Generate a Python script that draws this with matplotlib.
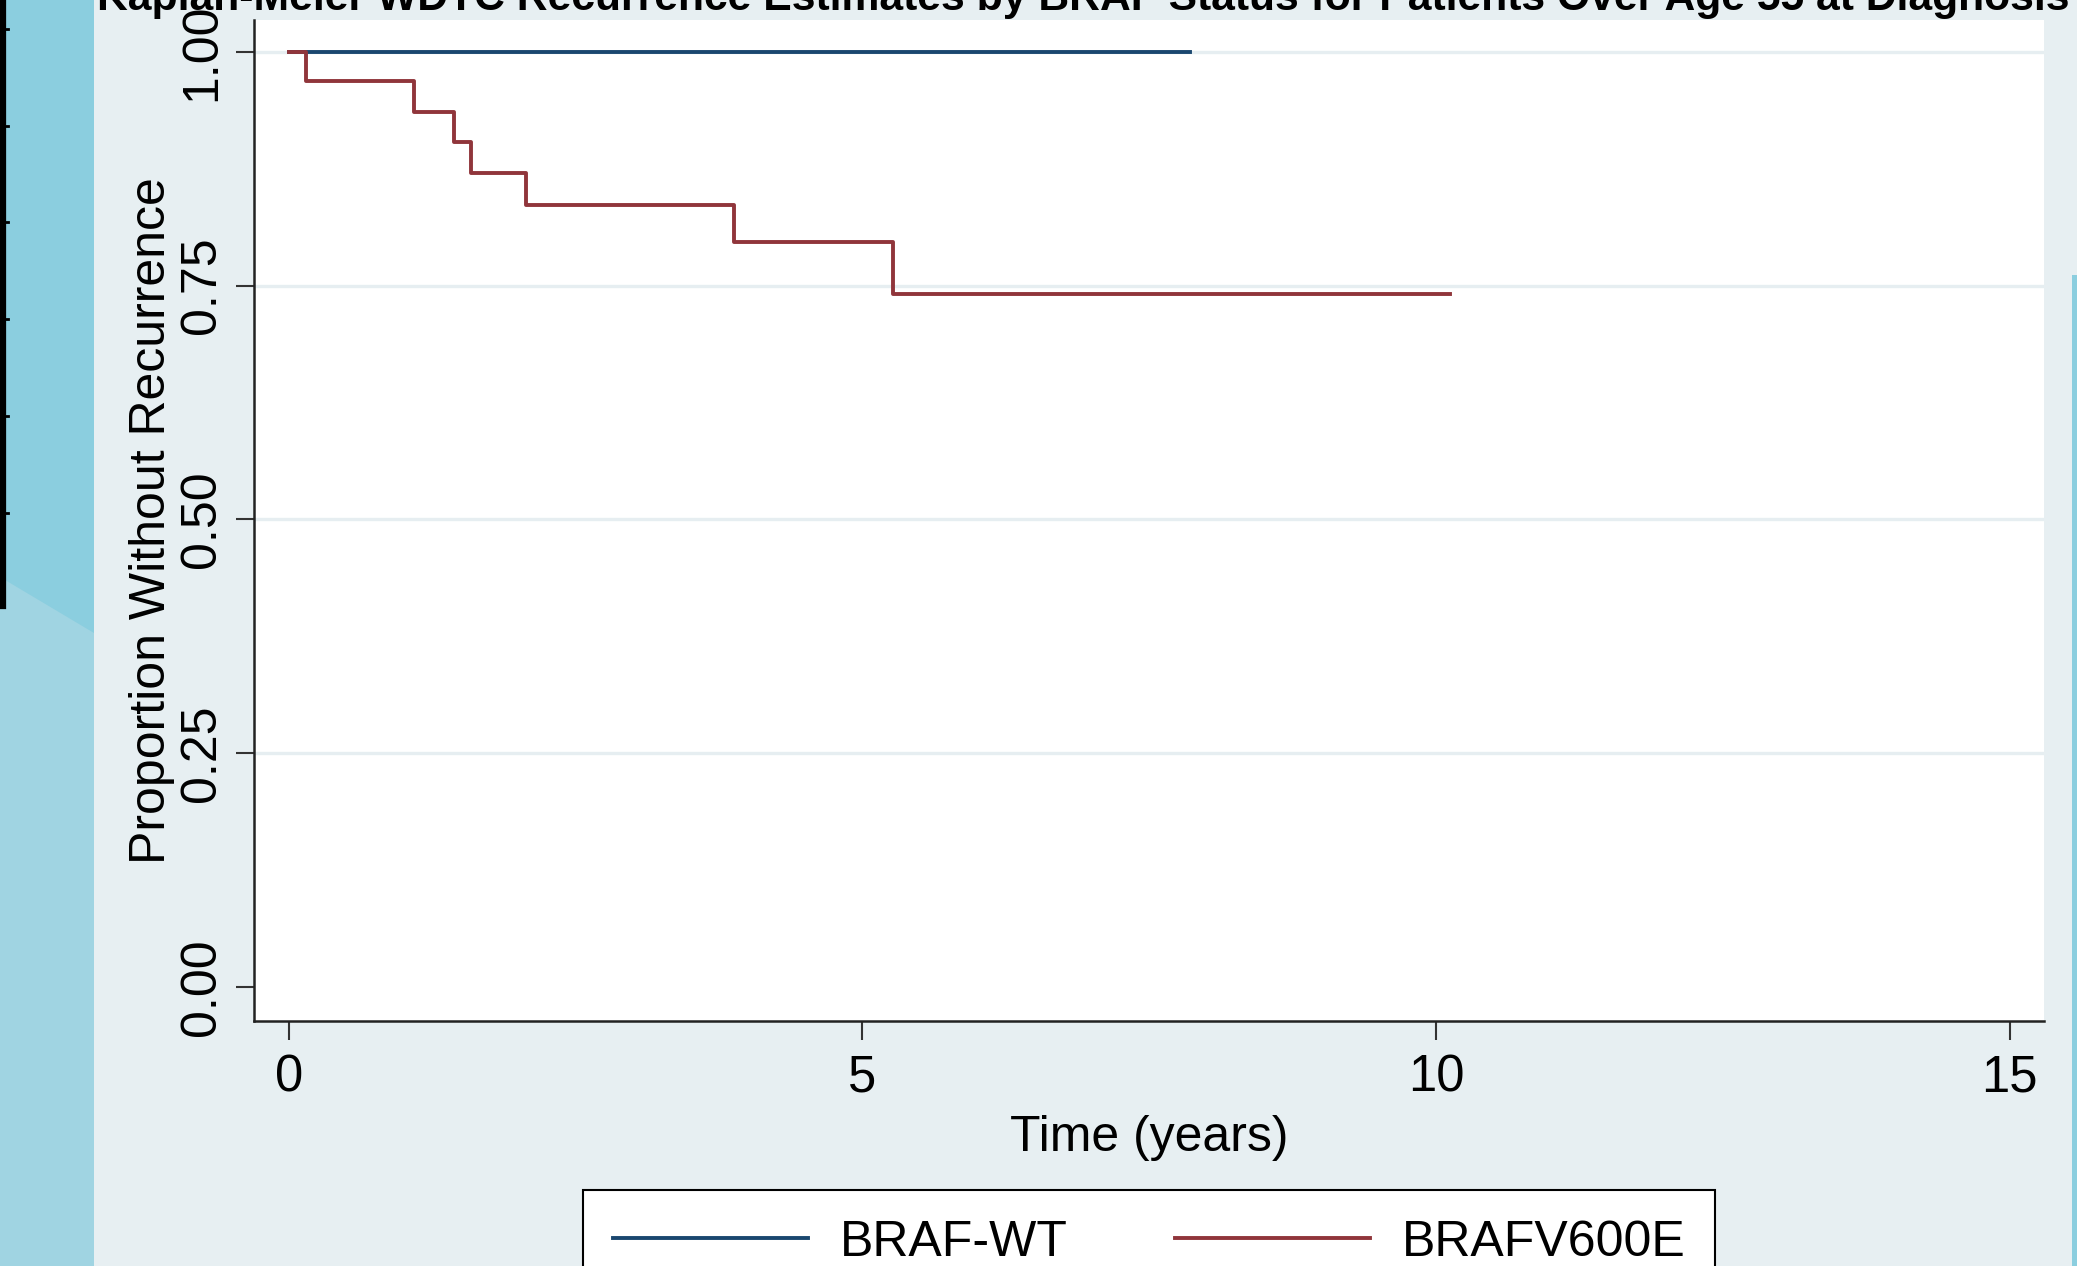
import matplotlib
matplotlib.use("Agg")
import matplotlib.pyplot as plt
from matplotlib.patches import Rectangle, Polygon
from matplotlib.lines import Line2D

plt.rcParams["font.family"] = ["Liberation Sans", "DejaVu Sans"]

W, H = 2077, 1266

# Kaplan-Meier estimates
wt_time = [0.0, 7.86]
wt_surv = [1.0, 1.0]
v600e_time = [0.0, 0.15, 1.09, 1.44, 1.59, 2.07, 3.88, 5.27, 10.12]
v600e_surv = [1.0, 0.969, 0.936, 0.903, 0.870, 0.836, 0.797, 0.741, 0.741]

x_ticks = [0, 5, 10, 15]
y_ticks = [0.0, 0.25, 0.5, 0.75, 1.0]
y_ticklabels = ["0.00", "0.25", "0.50", "0.75", "1.00"]
series_labels = ["BRAF-WT", "BRAFV600E"]
title = ("Kaplan-Meier WDTC Recurrence Estimates by BRAF Status "
         "for Patients Over Age 55 at Diagnosis")

blue = "#1a476f"
red = "#90353b"
bg = "#e7eff2"


def fx(px):
    return px / W


def fy(py):
    return 1 - py / H


fig = plt.figure(figsize=(W / 100, H / 100), dpi=100)
fig.patch.set_facecolor(bg)

# cyan strip on the left (slide behind the screenshot)
fig.add_artist(Rectangle((0, 0), fx(94), 1, transform=fig.transFigure,
                         facecolor="#8bcedf", edgecolor="none", zorder=0))
fig.add_artist(Polygon([(0, fy(577)), (fx(94), fy(633)), (fx(94), 0), (0, 0)],
                       closed=True, transform=fig.transFigure,
                       facecolor="#a0d4e2", edgecolor="none", zorder=0))
fig.add_artist(Line2D([fx(3), fx(3)], [1, fy(606)], transform=fig.transFigure,
                      color="black", linewidth=4.5, zorder=1))
for ty in [29, 126, 222, 319, 416, 513]:
    fig.add_artist(Line2D([0, fx(8)], [fy(ty), fy(ty)], transform=fig.transFigure,
                          color="black", linewidth=2, zorder=1))
fig.add_artist(Rectangle((fx(2072), 0), fx(5), fy(275), transform=fig.transFigure,
                         facecolor="#8bcedf", edgecolor="none", zorder=0))

ax = fig.add_axes([fx(254), fy(1021), fx(2044) - fx(254), fy(20) - fy(1021)])
ax.set_facecolor("white")

ax.step(wt_time, wt_surv, where="post", color=blue, linewidth=2.8, zorder=3,
        label=series_labels[0])
ax.step(v600e_time, v600e_surv, where="post", color=red, linewidth=2.8, zorder=4,
        label=series_labels[1])

ax.set_xlim(-0.303, 15.30)
ax.set_ylim(-0.0366, 1.034)

ax.set_xticks(x_ticks)
ax.set_yticks(y_ticks)
ax.set_yticklabels(y_ticklabels, rotation=90, va="center")

ax.yaxis.grid(True, color="#e6eef1", linewidth=2.4, zorder=1)
ax.get_ygridlines()[0].set_visible(False)
ax.set_axisbelow(True)

for s in ["top", "right"]:
    ax.spines[s].set_visible(False)
for s in ["left", "bottom"]:
    ax.spines[s].set_linewidth(1.8)
    ax.spines[s].set_color("#222222")

ax.tick_params(axis="y", length=13, width=1.5, pad=8, labelsize=36,
               color="#333333")
ax.tick_params(axis="x", length=13.5, width=1.5, pad=10, labelsize=36.5,
               color="#333333")

ax.set_xlabel("Time (years)", fontsize=36)
ax.xaxis.set_label_coords(0.5, -0.094)
ax.set_ylabel("Proportion Without Recurrence", fontsize=36)
ax.yaxis.set_label_coords(-0.044, 0.5)

leg = ax.legend(loc="upper center", bbox_to_anchor=(0.5, -0.1688), ncol=2,
                fontsize=36, handlelength=3.9, handletextpad=0.64,
                columnspacing=2.14, borderpad=0.6, borderaxespad=0,
                fancybox=False, framealpha=1, edgecolor="black",
                facecolor="white")
leg.get_frame().set_linewidth(1.5)

fig.text(fx(1083), fy(10), title, ha="center", va="baseline",
         fontsize=30.7, fontweight="bold", color="black")

fig.savefig("out.png", dpi=100, facecolor=fig.get_facecolor())
